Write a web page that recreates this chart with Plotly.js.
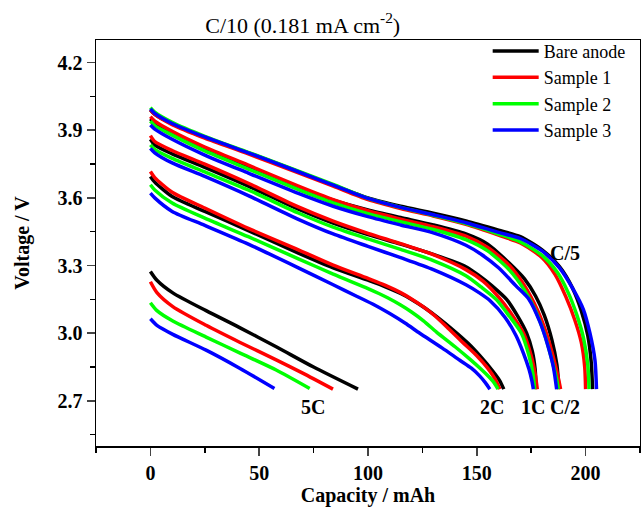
<!DOCTYPE html>
<html>
<head>
<meta charset="utf-8">
<script src="https://cdn.plot.ly/plotly-3.0.1.min.js"></script>
<style>html,body{margin:0;padding:0;background:#fff}#chart{width:641px;height:507px}</style>
</head>
<body>
<div id="chart"></div>
<script>
// ---------- data (capacity mAh / voltage V) ----------
var seriesNames = ["Bare anode", "Sample 1", "Sample 2", "Sample 3"];
var seriesColors = ["#000000", "#ff0000", "#00ff00", "#0000ff"];
var rateLabels = ["C/5", "C/2", "1C", "2C", "5C"];

// C/5
var c5_bare_x = [0,2,10,25,45,65,84,100,115,130,145,160,170,180,188,194,198,201,202.6,203.2];
var c5_bare_y = [3.99,3.97,3.928,3.868,3.8,3.727,3.657,3.6,3.563,3.532,3.498,3.457,3.428,3.37,3.295,3.2,3.1,2.99,2.87,2.752];
var c5_s1_x = [0,2,10,25,45,65,84,100,115,130,145,160,170,180,186,191,195,198,199.6,200];
var c5_s1_y = [3.99,3.97,3.925,3.865,3.795,3.722,3.652,3.592,3.553,3.52,3.483,3.435,3.4,3.335,3.26,3.16,3.06,2.96,2.85,2.752];
var c5_s2_x = [0,2,10,25,45,65,84,100,115,130,145,160,170,180,187,192,196,199,201,201.6];
var c5_s2_y = [4.0,3.98,3.935,3.873,3.802,3.73,3.66,3.598,3.558,3.523,3.486,3.44,3.405,3.345,3.27,3.18,3.08,2.98,2.86,2.752];
var c5_s3_x = [0,2,10,25,45,65,84,100,115,130,145,160,170,180,188,194,199,202,204.3,205];
var c5_s3_y = [3.995,3.975,3.93,3.87,3.8,3.727,3.657,3.598,3.558,3.525,3.49,3.447,3.42,3.365,3.29,3.2,3.105,3.0,2.88,2.752];

// C/2
var c2_bare_x = [0,2,10,25,45,68,84,100,115,130,145,155,165,172,177,181,184.5,186.8,187.8];
var c2_bare_y = [3.95,3.93,3.887,3.818,3.738,3.647,3.59,3.547,3.513,3.48,3.44,3.395,3.31,3.24,3.165,3.08,2.97,2.86,2.752];
var c2_s1_x = [0,2,10,25,45,68,84,100,115,130,145,155,165,172,178,182,185,187.5,188.5];
var c2_s1_y = [3.96,3.94,3.895,3.825,3.745,3.652,3.592,3.543,3.506,3.472,3.43,3.38,3.3,3.21,3.1,3.0,2.9,2.8,2.752];
var c2_s2_x = [0,2,10,25,45,68,84,100,115,130,145,155,165,172,177,181,184,186.6,187.5];
var c2_s2_y = [3.94,3.92,3.878,3.808,3.728,3.637,3.578,3.53,3.494,3.46,3.415,3.365,3.28,3.19,3.1,3.0,2.9,2.8,2.752];
var c2_s3_x = [0,2,10,25,45,68,84,100,115,130,145,152,160,168,174,179,182.5,185.2,186.7];
var c2_s3_y = [3.923,3.905,3.86,3.79,3.71,3.62,3.563,3.517,3.48,3.445,3.39,3.35,3.29,3.21,3.15,3.05,2.95,2.85,2.752];

// 1C
var c1_bare_x = [0,2,10,25,45,68,84,100,115,130,145,151.4,157,163.7,168.5,172.9,175.5,176.8,177.3];
var c1_bare_y = [3.86,3.835,3.795,3.735,3.652,3.55,3.488,3.437,3.395,3.35,3.295,3.253,3.21,3.15,3.08,3.0,2.92,2.84,2.752];
var c1_s1_x = [0,2,10,25,45,68,84,100,115,130,145,153,161,167,171.5,175,176.8,177.8];
var c1_s1_y = [3.876,3.85,3.81,3.75,3.665,3.56,3.497,3.443,3.397,3.348,3.282,3.23,3.149,3.07,3.0,2.9,2.82,2.752];
var c1_s2_x = [0,2,10,25,45,68,84,100,115,130,145,152,159,165,170.5,174,175.8,176.6];
var c1_s2_y = [3.835,3.815,3.775,3.715,3.635,3.533,3.47,3.418,3.372,3.322,3.255,3.205,3.149,3.075,3.0,2.9,2.82,2.752];
var c1_s3_x = [0,2,10,25,45,68,84,100,115,130,145,151,156,163,168,171.5,174,175.3,176];
var c1_s3_y = [3.82,3.8,3.755,3.695,3.61,3.505,3.44,3.385,3.335,3.282,3.215,3.18,3.145,3.07,2.99,2.91,2.84,2.79,2.752];

// 2C
var r2_bare_x = [0,2,10,25,45,68,84,100,108,115,120,126,132,139,146,151.4,157.5,160.5,162.4];
var r2_bare_y = [3.695,3.67,3.606,3.54,3.455,3.355,3.29,3.235,3.206,3.176,3.15,3.113,3.07,3.015,2.955,2.9,2.83,2.79,2.752];
var r2_s1_x = [0,2,10,25,45,68,84,100,108,115,120,125,130,136,144,150,155,158.5,160.6];
var r2_s1_y = [3.717,3.69,3.625,3.555,3.465,3.37,3.302,3.243,3.212,3.18,3.152,3.12,3.083,3.03,2.955,2.9,2.845,2.795,2.752];
var r2_s2_x = [0,2,10,25,45,68,84,100,105,109,115,120,125.5,131.5,140,146.8,152,155.2,158,159.8];
var r2_s2_y = [3.658,3.635,3.577,3.51,3.428,3.33,3.262,3.198,3.176,3.157,3.125,3.094,3.055,3.005,2.94,2.885,2.84,2.81,2.78,2.752];
var r2_s3_x = [0,2,10,25,45,68,84,95,103,110,117,123.8,134,142.2,147.5,151.4,154,156];
var r2_s3_y = [3.621,3.6,3.54,3.478,3.395,3.29,3.215,3.163,3.125,3.087,3.045,3.0,2.935,2.88,2.845,2.81,2.78,2.752];

// 5C
var r5_bare_x = [0,3,10.3,25.6,41,57.8,75,95.4];
var r5_bare_y = [3.274,3.235,3.179,3.1,3.025,2.94,2.85,2.752];
var r5_s1_x = [0,3,10.3,25.6,41,57.8,70,83.9];
var r5_s1_y = [3.228,3.18,3.118,3.035,2.96,2.882,2.823,2.752];
var r5_s2_x = [0,3,10.3,25.6,41,57.8,73.2];
var r5_s2_y = [3.135,3.1,3.054,2.983,2.913,2.837,2.755];
var r5_s3_x = [0,3,10.3,25.6,41,57];
var r5_s3_y = [3.064,3.035,2.995,2.925,2.845,2.755];

// rate label positions (capacity, voltage)
var labelX = [190.5, 190.5, 175.6, 156.8, 74.6];
var labelY = [3.357, 2.672, 2.672, 2.672, 2.672];

// ---------- build ----------
var curves = [
  [[c5_bare_x,c5_bare_y],[c2_bare_x,c2_bare_y],[c1_bare_x,c1_bare_y],[r2_bare_x,r2_bare_y],[r5_bare_x,r5_bare_y]],
  [[c5_s1_x,c5_s1_y],[c2_s1_x,c2_s1_y],[c1_s1_x,c1_s1_y],[r2_s1_x,r2_s1_y],[r5_s1_x,r5_s1_y]],
  [[c5_s2_x,c5_s2_y],[c2_s2_x,c2_s2_y],[c1_s2_x,c1_s2_y],[r2_s2_x,r2_s2_y],[r5_s2_x,r5_s2_y]],
  [[c5_s3_x,c5_s3_y],[c2_s3_x,c2_s3_y],[c1_s3_x,c1_s3_y],[r2_s3_x,r2_s3_y],[r5_s3_x,r5_s3_y]]
];
var serif = "Liberation Serif";
var traces = [];
for (var s = 0; s < 4; s++) {
  for (var r = 0; r < curves[s].length; r++) {
    traces.push({
      x: curves[s][r][0], y: curves[s][r][1],
      type: "scatter", mode: "lines",
      line: {color: seriesColors[s], width: 3.5, shape: "spline", smoothing: 0.7},
      name: seriesNames[s], legendgroup: seriesNames[s],
      showlegend: r === 0, hoverinfo: "skip"
    });
  }
}
var annotations = [];
for (var i = 0; i < rateLabels.length; i++) {
  annotations.push({x: labelX[i], y: labelY[i], xref: "x", yref: "y", text: "<b>" + rateLabels[i] + "</b>",
    showarrow: false, font: {family: serif, size: 20, color: "#000"}});
}
var layout = {
  width: 641, height: 507,
  margin: {l: 96, r: 1, t: 40, b: 61},
  paper_bgcolor: "#fff", plot_bgcolor: "#fff",
  font: {family: serif, color: "#000"},
  title: {text: "C/10 (0.181 mA cm<sup>-2</sup>)", font: {family: serif, size: 22, color: "#000"},
    x: 0.38, xref: "paper", xanchor: "center", y: 0.951, yref: "container", yanchor: "middle"},
  showlegend: true,
  legend: {x: 0.72, y: 1.018, xanchor: "left", yanchor: "top", bgcolor: "rgba(0,0,0,0)",
    itemwidth: 46, font: {family: serif, size: 18, color: "#000"}, tracegroupgap: 0},
  xaxis: {
    range: [-25, 225], tick0: 0, dtick: 50, ticks: "outside", ticklen: 8, tickwidth: 1.5,
    showline: true, linewidth: 1.5, linecolor: "#000", mirror: true, showgrid: false, zeroline: false,
    tickfont: {family: serif, size: 20, color: "#000", weight: "bold"},
    minor: {dtick: 25, ticks: "outside", ticklen: 5, tickwidth: 1.5, tickcolor: "#000", showgrid: false},
    title: {text: "<b>Capacity / mAh</b>", font: {family: serif, size: 20, color: "#000"}, standoff: 6}
  },
  yaxis: {
    range: [2.5, 4.3], tick0: 2.7, dtick: 0.3, ticks: "outside", ticklen: 8, tickwidth: 1.5,
    showline: true, linewidth: 1.5, linecolor: "#000", mirror: true, showgrid: false, zeroline: false,
    tickformat: ".1f",
    tickfont: {family: serif, size: 20, color: "#000", weight: "bold"},
    minor: {dtick: 0.15, ticks: "outside", ticklen: 5, tickwidth: 1.5, tickcolor: "#000", showgrid: false},
    title: {text: "<b>Voltage / V</b>", font: {family: serif, size: 20, color: "#000"}, standoff: 22}
  },
  annotations: annotations
};
Plotly.newPlot("chart", traces, layout, {displayModeBar: false, staticPlot: true});
</script>
</body>
</html>
